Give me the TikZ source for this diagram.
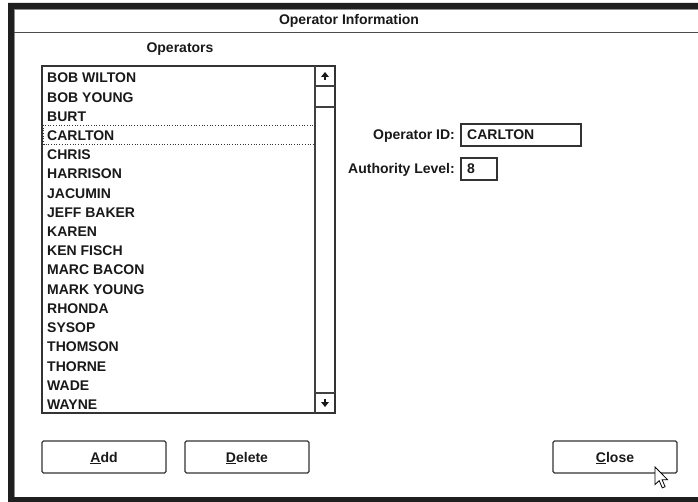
\documentclass[tikz,border=0pt]{standalone}
\usepackage{fontspec}
\setmainfont{Liberation Sans}
\begin{document}
\begin{tikzpicture}[x=1pt,y=-1pt,
  ui/.style={font=\bfseries\fontsize{14}{14}\selectfont, inner sep=0pt,
             text height=10pt, text depth=0pt, text=black!90},
  item/.style={ui, anchor=west},
  field/.style={draw=black!80, line width=1.2pt},
  btn/.style={draw=black!80, line width=1.2pt, rounded corners=1.5pt},
  sbar/.style={draw=black!75, line width=1.2pt},
  arrowglyph/.style={fill=black!90, draw=none}]
\useasboundingbox (0,0) rectangle (698,502);
\fill[white] (0,0) rectangle (698,502);

% window frame: heavy black border open to the right
\fill[black!88, even odd rule] (8,3) rectangle (698,502) (14,9) rectangle (698,497);
\draw[black!45, line width=0.8pt] (14.6,497) -- (14.6,9.6) -- (698,9.6);

% title bar
\node[ui] (title) at (349,20) {Operator Information};
\draw[black!70, line width=1.6pt] (14,32.5) -- (698,32.5);

% operator list
\node[ui] (oplabel) at (180,48) {Operators};
\draw[field] (42,66) rectangle (335,413);
\draw[sbar] (315,66) -- (315,413);
\draw[sbar] (315,86) -- (335,86);
\draw[sbar] (315,107) -- (335,107);
\draw[sbar] (315,393) -- (335,393);
% scroll arrows
\fill[arrowglyph] (325,72) -- (329,77) -- (321,77) -- cycle;
\fill[arrowglyph] (323.8,77) rectangle (326.2,80);
\fill[arrowglyph] (325,407) -- (329,402) -- (321,402) -- cycle;
\fill[arrowglyph] (323.8,399) rectangle (326.2,402);

% focus rectangle on the selected entry
\draw[black!80, line width=0.7pt, dotted] (43.5,125) rectangle (314,144.5);

\foreach \name [count=\i from 0] in {BOB WILTON,BOB YOUNG,BURT,CARLTON,CHRIS,HARRISON,JACUMIN,JEFF BAKER,KAREN,KEN FISCH,MARC BACON,MARK YOUNG,RHONDA,SYSOP,THOMSON,THORNE,WADE,WAYNE}
  \node[item] (op\i) at (47,{78+\i*19.2}) {\name};

% detail fields
\node[ui, anchor=east] (idlabel) at (455,135) {Operator ID:};
\draw[field] (461,124) rectangle (581,146);
\node[item] (idvalue) at (467,135) {CARLTON};
\node[ui, anchor=east] (levellabel) at (455,169) {Authority Level:};
\draw[field] (461,158) rectangle (497,180);
\node[item] (levelvalue) at (467,169) {8};

% buttons
\draw[btn] (42,441) rectangle (166,473);
\node[ui] (addbtn) at (104,457) {\underline{A}dd};
\draw[btn] (185,441) rectangle (309,473);
\node[ui] (delbtn) at (247,457) {\underline{D}elete};
\draw[btn] (553,441) rectangle (677,473);
\node[ui] (closebtn) at (615,457) {\underline{C}lose};

% mouse pointer
\begin{scope}[shift={(655,467)}, scale=1.1]
  \filldraw[fill=white, draw=black, line width=0.8pt, line join=miter]
    (0,0) -- (0,16) -- (3.8,12.4) -- (6.6,19) -- (9.2,17.9) -- (6.4,11.5) -- (11.4,11.5) -- cycle;
\end{scope}
\end{tikzpicture}
\end{document}
